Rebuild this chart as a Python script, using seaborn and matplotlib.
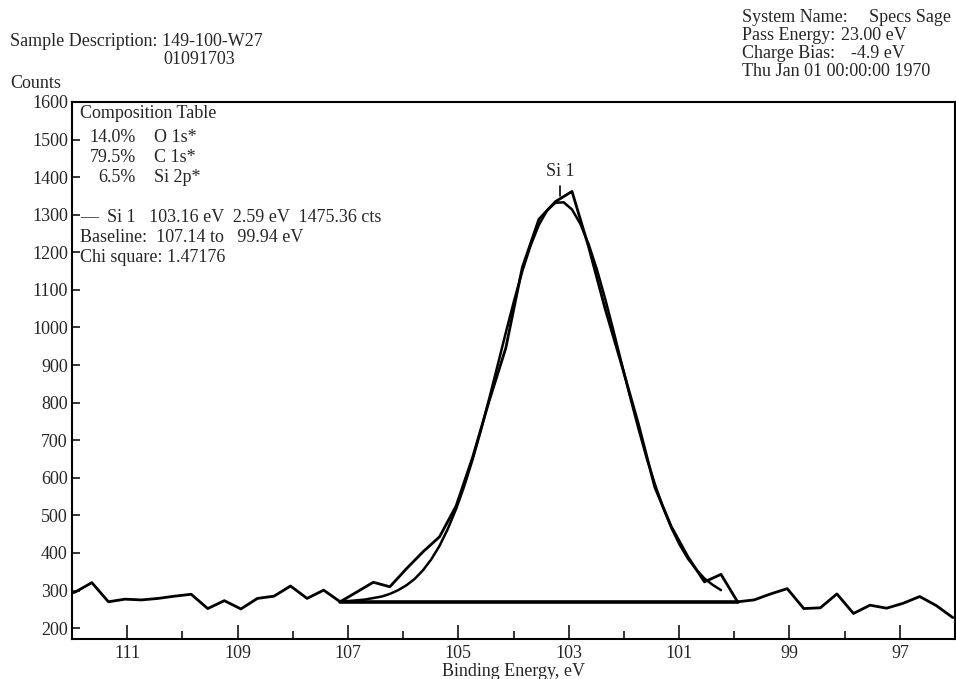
import pandas as pd
import matplotlib
matplotlib.use("Agg")
import matplotlib.pyplot as plt
import seaborn as sns

# --- measured spectrum (Si 2p region) ---
energy = [112.24, 111.94, 111.64, 111.34, 111.04, 110.74, 110.44, 110.14, 109.84,
          109.54, 109.24, 108.94, 108.64, 108.34, 108.04, 107.74, 107.44, 107.14,
          106.84, 106.54, 106.24, 105.94, 105.64, 105.34, 105.04, 104.74, 104.44,
          104.14, 103.84, 103.54, 103.24, 102.94, 102.64, 102.34, 102.04, 101.74,
          101.44, 101.14, 100.84, 100.54, 100.24, 99.94, 99.64, 99.34, 99.04,
          98.74, 98.44, 98.14, 97.84, 97.54, 97.24, 96.94, 96.64, 96.34, 96.04]
counts = [285, 296, 321, 270, 277, 275, 279, 285, 290,
          252, 273, 251, 279, 285, 312, 279, 301, 270,
          296, 322, 310, 358, 403, 443, 525, 655, 805,
          945, 1160, 1288, 1335, 1362, 1215, 1050, 900, 745,
          575, 470, 390, 323, 343, 270, 275, 291, 305,
          252, 254, 291, 239, 261, 253, 266, 284, 260, 228]

# --- fitted component Si 1 ---
fit_energy = [107.14, 106.99, 106.84, 106.69, 106.54, 106.39, 106.24, 106.09,
              105.94, 105.79, 105.64, 105.49, 105.34, 105.19, 105.04, 104.89,
              104.74, 104.59, 104.44, 104.29, 104.14, 103.99, 103.84, 103.69,
              103.54, 103.39, 103.24, 103.09, 102.94, 102.79, 102.64, 102.49,
              102.34, 102.19, 102.04, 101.89, 101.74, 101.59, 101.44, 101.29,
              101.14, 100.99, 100.84, 100.69, 100.54, 100.39, 100.24]
fit_counts = [272, 272, 274, 276, 280, 284, 291, 301,
              314, 331, 354, 383, 419, 464, 517, 579,
              649, 727, 811, 898, 986, 1071, 1150, 1218,
              1273, 1312, 1332, 1333, 1314, 1276, 1222, 1155,
              1077, 992, 904, 817, 733, 654, 584, 521,
              467, 422, 385, 356, 332, 315, 301]

# --- linear baseline ---
baseline_energy = [107.14, 99.94]
baseline_counts = [270, 270]

# --- peak marker ---
peak_center = 103.16
peak_mark = [1349, 1376]

comp_pct = ["14.0%", "79.5%", "6.5%"]
comp_name = ["O 1s*", "C 1s*", "Si 2p*"]

x_major = [111, 109, 107, 105, 103, 101, 99, 97]
x_minor = [110, 108, 106, 104, 102, 100, 98]
y_ticks = list(range(200, 1700, 100))

W, H = 956, 679


def px(x, y):
    return x / W, 1 - y / H


sns.set_style("ticks")
plt.rcParams['font.family'] = ['Liberation Serif', 'DejaVu Serif']
plt.rcParams['font.size'] = 13

spec_df = pd.DataFrame({'energy': energy, 'counts': counts})
fit_df = pd.DataFrame({'energy': fit_energy, 'counts': fit_counts})
base_df = pd.DataFrame({'energy': baseline_energy, 'counts': baseline_counts})

fig = plt.figure(figsize=(W / 100, H / 100), dpi=100)
ax = fig.add_axes([72 / W, 1 - 639 / H, (955 - 72) / W, (639 - 102) / H])

sns.lineplot(data=base_df, x='energy', y='counts', ax=ax, color='black',
             lw=2.6, sort=False, estimator=None)
sns.lineplot(data=fit_df, x='energy', y='counts', ax=ax, color='black',
             lw=1.8, sort=False, estimator=None)
sns.lineplot(data=spec_df, x='energy', y='counts', ax=ax, color='black',
             lw=2.0, sort=False, estimator=None)

ax.plot([peak_center, peak_center], peak_mark, color='black', lw=1.2)
ax.text(peak_center, 1392, "Si 1", ha='center', va='bottom')

ax.set_xlim(112.0, 96.0)
ax.set_ylim(171, 1600)
ax.set_xticks(x_major)
ax.set_xticks(x_minor, minor=True)
ax.set_yticks(y_ticks)
ax.set_xticklabels([str(v) for v in x_major])
ax.set_yticklabels([str(v) for v in y_ticks])
ax.tick_params(axis='x', which='major', direction='in', length=10, width=1.3, pad=4)
ax.tick_params(axis='x', which='minor', direction='in', length=6, width=1.3)
ax.tick_params(axis='y', direction='in', length=6, width=1.3, pad=3)
ax.set_xlabel("Binding Energy, eV")
ax.xaxis.set_label_coords(0.5, -0.044)
ax.set_ylabel("")
for s in ax.spines.values():
    s.set_linewidth(1.5)
    s.set_color('black')

# composition table and fit summary
fig.text(*px(80, 113), "Composition Table", va='center')
for i, (p, n) in enumerate(zip(comp_pct, comp_name)):
    yy = 137 + 20 * i
    fig.text(*px(136, yy), p, va='center', ha='right')
    fig.text(*px(154, yy), n, va='center')
fig.text(*px(80, 218), "\u2014  Si 1   103.16 eV  2.59 eV  1475.36 cts", va='center')
fig.text(*px(80, 238), "Baseline:  107.14 to   99.94 eV", va='center')
fig.text(*px(80, 257), "Chi square: 1.47176", va='center')

# header
fig.text(*px(10, 42), "Sample Description: 149-100-W27", va='center')
fig.text(*px(163, 60), "01091703", va='center')
fig.text(*px(10, 83), "Counts", va='center')

hdr_lab = ["System Name:", "Pass Energy:", "Charge Bias:"]
hdr_val = ["Specs Sage", "23.00 eV", "-4.9 eV"]
hdr_valx = [869, 841, 851]
for i, (l, v, vx) in enumerate(zip(hdr_lab, hdr_val, hdr_valx)):
    yy = 17 + 18.5 * i
    fig.text(*px(742, yy), l, va='center')
    fig.text(*px(vx, yy), v, va='center')
fig.text(*px(742, 72), "Thu Jan 01 00:00:00 1970", va='center')

fig.savefig("out.png", dpi=100)
plt.close(fig)
